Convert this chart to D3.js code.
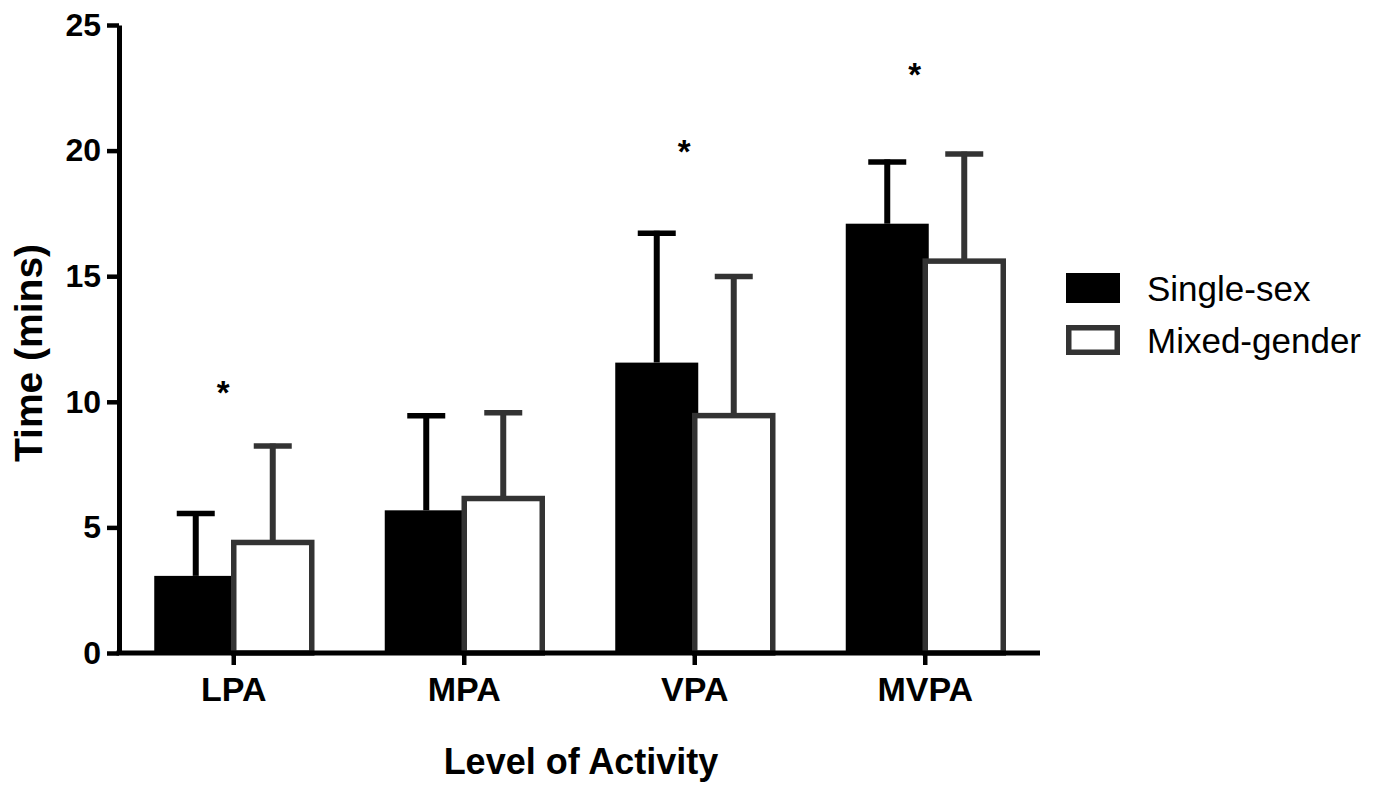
<!DOCTYPE html>
<html>
<head>
<meta charset="utf-8">
<script src="https://cdn.jsdelivr.net/npm/d3@7"></script>
<style>
  body { margin: 0; background: #fff; }
  svg text { font-family: "Liberation Sans", Arial, Helvetica, sans-serif; }
</style>
</head>
<body>
<script>
// data
const categories = ["LPA", "MPA", "VPA", "MVPA"]
const series = ["Single-sex", "Mixed-gender"]
const singleMean = [3.07, 5.68, 11.56, 17.09]
const singleSD = [2.48, 3.76, 5.15, 2.46]
const mixedMean = [4.4, 6.15, 9.45, 15.6]
const mixedSD = [3.84, 3.41, 5.54, 4.26]
const starLevel = [10.67, null, 20.28, 23.31]   // "*" marks, centre height in minutes
const yTicks = [0, 5, 10, 15, 20, 25]

const W = 1381, H = 787
const grey = "#333333"

const svg = d3.select("body").append("svg")
    .attr("width", W).attr("height", H)

const x = d3.scalePoint().domain(categories).range([118, 1040]).padding(0.5)
const y = d3.scaleLinear().domain([0, 25]).range([653, 25])

// offsets of each bar relative to category centre
const singleLeft = -79, singleW = 83, singleMid = -37.5
const mixedLeft = 0.5, mixedW = 78, mixedMid = 39.5
const capHalf = 19

const rows = categories.map((c, i) => ({
    cat: c, s: singleMean[i], sSd: singleSD[i], m: mixedMean[i], mSd: mixedSD[i], star: starLevel[i]
}))

const g = svg.append("g")

// single-sex bars (black)
g.selectAll("rect.single").data(rows).enter().append("rect")
    .attr("class", "single")
    .attr("x", d => x(d.cat) + singleLeft)
    .attr("width", singleW)
    .attr("y", d => y(d.s))
    .attr("height", d => y(0) - y(d.s))
    .attr("fill", "#000")

// error bars single
g.selectAll("path.errS").data(rows).enter().append("path")
    .attr("class", "errS")
    .attr("d", d => {
        let cx = x(d.cat) + singleMid
        return "M" + cx + "," + y(d.s) + "V" + (y(d.s + d.sSd) - 2.5)
    })
    .attr("stroke", "#000").attr("stroke-width", 6).attr("fill", "none")
g.selectAll("path.capS").data(rows).enter().append("path")
    .attr("class", "capS")
    .attr("d", d => {
        let cx = x(d.cat) + singleMid
        return "M" + (cx - capHalf) + "," + y(d.s + d.sSd) + "H" + (cx + capHalf)
    })
    .attr("stroke", "#000").attr("stroke-width", 5.5).attr("fill", "none")

// error bars mixed (drawn before bar so bar outline sits on top)
g.selectAll("path.errM").data(rows).enter().append("path")
    .attr("class", "errM")
    .attr("d", d => {
        let cx = x(d.cat) + mixedMid
        return "M" + cx + "," + y(d.m) + "V" + (y(d.m + d.mSd) - 2.5)
    })
    .attr("stroke", grey).attr("stroke-width", 6).attr("fill", "none")
g.selectAll("path.capM").data(rows).enter().append("path")
    .attr("class", "capM")
    .attr("d", d => {
        let cx = x(d.cat) + mixedMid
        return "M" + (cx - capHalf) + "," + y(d.m + d.mSd) + "H" + (cx + capHalf)
    })
    .attr("stroke", grey).attr("stroke-width", 5.5).attr("fill", "none")

// mixed-gender bars (white, grey outline)
g.selectAll("rect.mixed").data(rows).enter().append("rect")
    .attr("class", "mixed")
    .attr("x", d => x(d.cat) + mixedLeft)
    .attr("width", mixedW)
    .attr("y", d => y(d.m))
    .attr("height", d => y(0) - y(d.m))
    .attr("fill", "#fff")
    .attr("stroke", grey).attr("stroke-width", 5.5)

// significance stars
g.selectAll("text.star").data(rows.filter(d => d.star != null)).enter().append("text")
    .attr("class", "star")
    .attr("x", d => x(d.cat) - 10)
    .attr("y", d => y(d.star) + 19)
    .attr("text-anchor", "middle")
    .attr("font-size", 33).attr("font-weight", "bold")
    .text("*")

// axes
const yAxis = svg.append("g")
    .attr("transform", "translate(119,0)")
    .call(d3.axisLeft(y).tickValues(yTicks).tickSize(12).tickSizeOuter(0).tickPadding(6))
yAxis.select(".domain").attr("stroke", "#000").attr("stroke-width", 5)
yAxis.selectAll(".tick line").attr("stroke", "#000").attr("stroke-width", 4.5)
yAxis.selectAll(".tick text").attr("font-size", 32).attr("font-weight", "bold").attr("fill", "#000")
    .attr("font-family", "Liberation Sans, Arial, sans-serif")

const xAxis = svg.append("g")
    .attr("transform", "translate(0,653)")
    .call(d3.axisBottom(x).tickSize(12).tickSizeOuter(0).tickPadding(12))
xAxis.select(".domain").attr("d", "M116.5,0H1040").attr("stroke", "#000").attr("stroke-width", 5)
xAxis.selectAll(".tick line").attr("stroke", "#000").attr("stroke-width", 4.5)
xAxis.selectAll(".tick text").attr("font-size", 34).attr("font-weight", "bold").attr("fill", "#000")
    .attr("font-family", "Liberation Sans, Arial, sans-serif")

// axis titles
svg.append("text")
    .attr("x", 581).attr("y", 774)
    .attr("text-anchor", "middle")
    .attr("font-size", 36).attr("font-weight", "bold")
    .text("Level of Activity")

svg.append("text")
    .attr("transform", "translate(42,353) rotate(-90)")
    .attr("text-anchor", "middle")
    .attr("font-size", 39).attr("font-weight", "bold")
    .text("Time (mins)")

// legend
const legend = svg.append("g").selectAll("g").data(series).enter().append("g")
    .attr("transform", (d, i) => "translate(1066," + (273 + i * 52) + ")")
legend.append("rect")
    .attr("x", (d, i) => i ? 2.75 : 0)
    .attr("y", (d, i) => i ? 2.75 : 0)
    .attr("width", (d, i) => i ? 48.5 : 54)
    .attr("height", (d, i) => i ? 24.5 : 30)
    .attr("fill", (d, i) => i ? "#fff" : "#000")
    .attr("stroke", (d, i) => i ? grey : "none")
    .attr("stroke-width", 5.5)
legend.append("text")
    .attr("x", 81).attr("y", 28)
    .attr("font-size", 35)
    .text(d => d)
</script>
</body>
</html>
